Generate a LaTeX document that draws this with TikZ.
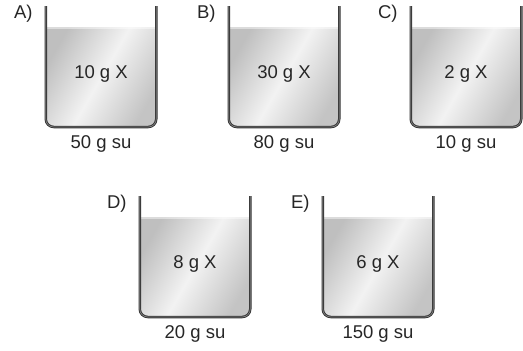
\documentclass[tikz,border=0pt]{standalone}
\usepackage{fontspec}
\setmainfont{Liberation Sans}
\usetikzlibrary{calc}
\usepackage{xcolor}

\tikzset{
  wall/.style={draw=black!80,double=black!50,double distance=0.7pt,line width=0.9pt,rounded corners=8pt},
  liquid/.style={left color=black!25,right color=black!23,middle color=black!5,shading angle=60},
  surface/.style={fill=white,opacity=0.45},
  txt/.style={font=\fontsize{18.5}{22}\selectfont,inner sep=0pt,text=black!85},
}

\begin{document}
\begin{tikzpicture}[x=1pt,y=-1pt]
\useasboundingbox (0,0) rectangle (523,351);
\def\w{110.5};
\def\h{121};
\def\lq{21};
\foreach \cx/\ty/\lab/\sol/\wat in {101/6/A/10/50,284/6/B/30/80,466/6/C/2/10,195/196/D/8/20,378/196/E/6/150}{
  \coordinate (\lab tl) at ({\cx-\w/2},\ty);
  \coordinate (\lab tr) at ({\cx+\w/2},\ty);
  \coordinate (\lab bl) at ({\cx-\w/2},\ty+\h);
  \coordinate (\lab br) at ({\cx+\w/2},\ty+\h);
  % su
  \begin{scope}
    \clip ($(\lab tl)+(0,-2)$) [rounded corners=8pt] -- (\lab bl) -- (\lab br) -- ($(\lab tr)+(0,-2)$) -- cycle;
    \shade[liquid] ($(\lab tl)+(0,\lq)$) rectangle (\lab br);
    \fill[surface] ($(\lab tl)+(0,\lq)$) rectangle ($(\lab tr)+(0,\lq+2)$);
  \end{scope}
  \draw[wall] (\lab tl) -- (\lab bl) -- (\lab br) -- (\lab tr);
  \node[txt,anchor=base east] (\lab) at ($(\lab tl)+(-13,12)$) {\lab)};
  \node[txt,anchor=base] (\lab sol) at ($(\lab tl)!0.5!(\lab tr)+(0,72)$) {\sol{} g X};
  \node[txt,anchor=base] (\lab wat) at ($(\lab bl)!0.5!(\lab br)+(0,21)$) {\wat{} g su};
}
\end{tikzpicture}
\end{document}
